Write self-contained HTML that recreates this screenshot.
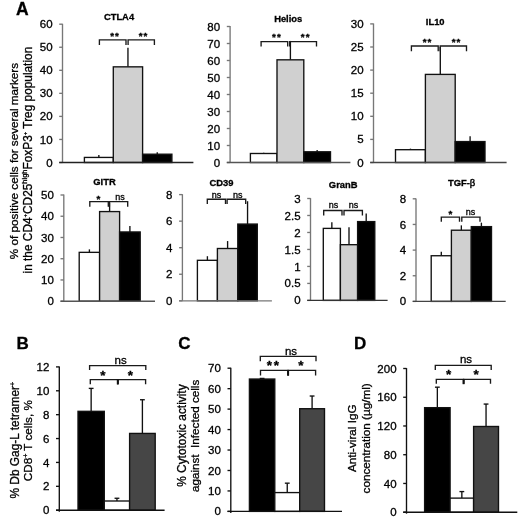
<!DOCTYPE html>
<html><head><meta charset="utf-8"><style>
html,body{margin:0;padding:0;background:#fff;width:520px;height:520px;overflow:hidden}
svg{display:block;filter:grayscale(1)}
text{font-family:"Liberation Sans", sans-serif;stroke:#000;stroke-width:0.3px}
</style></head><body>
<svg width="520" height="520" viewBox="0 0 520 520">
<rect x="0" y="0" width="520" height="520" fill="#fff"/>
<text x="16.00" y="14.50" font-size="17.5" text-anchor="start" font-weight="bold" fill="#000" >A</text>
<line x1="98.85" y1="154.89" x2="98.85" y2="157.43" stroke="#111" stroke-width="1.35"/>
<rect x="84.40" y="157.43" width="28.90" height="5.07" fill="#fff" stroke="#111" stroke-width="1.35"/>
<line x1="127.95" y1="47.71" x2="127.95" y2="66.84" stroke="#111" stroke-width="1.35"/>
<rect x="113.30" y="66.84" width="29.30" height="95.66" fill="#d0d0d0" stroke="#111" stroke-width="1.35"/>
<line x1="157.25" y1="152.36" x2="157.25" y2="154.20" stroke="#111" stroke-width="1.35"/>
<rect x="142.60" y="154.20" width="29.30" height="8.30" fill="#000" stroke="#111" stroke-width="1.35"/>
<line x1="62.50" y1="23.80" x2="62.50" y2="162.50" stroke="#777" stroke-width="1.35"/>
<line x1="59.20" y1="162.50" x2="62.50" y2="162.50" stroke="#777" stroke-width="1.35"/>
<text x="52.55" y="166.57" font-size="11.5" text-anchor="end" font-weight="normal" fill="#000" >0</text>
<line x1="59.20" y1="139.45" x2="62.50" y2="139.45" stroke="#777" stroke-width="1.35"/>
<text x="52.55" y="143.52" font-size="11.5" text-anchor="end" font-weight="normal" fill="#000" >10</text>
<line x1="59.20" y1="116.40" x2="62.50" y2="116.40" stroke="#777" stroke-width="1.35"/>
<text x="52.55" y="120.47" font-size="11.5" text-anchor="end" font-weight="normal" fill="#000" >20</text>
<line x1="59.20" y1="93.35" x2="62.50" y2="93.35" stroke="#777" stroke-width="1.35"/>
<text x="52.55" y="97.42" font-size="11.5" text-anchor="end" font-weight="normal" fill="#000" >30</text>
<line x1="59.20" y1="70.30" x2="62.50" y2="70.30" stroke="#777" stroke-width="1.35"/>
<text x="52.55" y="74.37" font-size="11.5" text-anchor="end" font-weight="normal" fill="#000" >40</text>
<line x1="59.20" y1="47.25" x2="62.50" y2="47.25" stroke="#777" stroke-width="1.35"/>
<text x="52.55" y="51.32" font-size="11.5" text-anchor="end" font-weight="normal" fill="#000" >50</text>
<line x1="59.20" y1="24.20" x2="62.50" y2="24.20" stroke="#777" stroke-width="1.35"/>
<text x="52.55" y="28.27" font-size="11.5" text-anchor="end" font-weight="normal" fill="#000" >60</text>
<line x1="59.20" y1="162.50" x2="193.40" y2="162.50" stroke="#222" stroke-width="1.35"/>
<text x="119.00" y="19.80" font-size="9.4" text-anchor="middle" font-weight="bold" fill="#000" >CTLA4</text>
<path d="M99.40,44.90 V39.90 H126.00 V44.90" stroke="#1a1a1a" stroke-width="1.35" fill="none"/>
<path d="M128.10,44.90 V39.90 H154.40 V44.90" stroke="#1a1a1a" stroke-width="1.35" fill="none"/>
<text x="112.05" y="39.02" font-size="9.8" text-anchor="middle" font-weight="bold" fill="#000" >*</text>
<text x="116.80" y="39.02" font-size="9.8" text-anchor="middle" font-weight="bold" fill="#000" >*</text>
<text x="140.65" y="39.02" font-size="9.8" text-anchor="middle" font-weight="bold" fill="#000" >*</text>
<text x="145.40" y="39.02" font-size="9.8" text-anchor="middle" font-weight="bold" fill="#000" >*</text>
<line x1="263.70" y1="152.64" x2="263.70" y2="153.49" stroke="#111" stroke-width="1.35"/>
<rect x="250.40" y="153.49" width="26.60" height="9.01" fill="#fff" stroke="#111" stroke-width="1.35"/>
<line x1="290.40" y1="40.95" x2="290.40" y2="59.82" stroke="#111" stroke-width="1.35"/>
<rect x="277.00" y="59.82" width="26.80" height="102.68" fill="#d0d0d0" stroke="#111" stroke-width="1.35"/>
<line x1="317.15" y1="149.92" x2="317.15" y2="151.79" stroke="#111" stroke-width="1.35"/>
<rect x="303.80" y="151.79" width="26.70" height="10.71" fill="#000" stroke="#111" stroke-width="1.35"/>
<line x1="230.10" y1="26.10" x2="230.10" y2="162.50" stroke="#777" stroke-width="1.35"/>
<line x1="226.80" y1="162.50" x2="230.10" y2="162.50" stroke="#777" stroke-width="1.35"/>
<text x="220.15" y="166.57" font-size="11.5" text-anchor="end" font-weight="normal" fill="#000" >0</text>
<line x1="226.80" y1="145.50" x2="230.10" y2="145.50" stroke="#777" stroke-width="1.35"/>
<text x="220.15" y="149.57" font-size="11.5" text-anchor="end" font-weight="normal" fill="#000" >10</text>
<line x1="226.80" y1="128.50" x2="230.10" y2="128.50" stroke="#777" stroke-width="1.35"/>
<text x="220.15" y="132.57" font-size="11.5" text-anchor="end" font-weight="normal" fill="#000" >20</text>
<line x1="226.80" y1="111.50" x2="230.10" y2="111.50" stroke="#777" stroke-width="1.35"/>
<text x="220.15" y="115.57" font-size="11.5" text-anchor="end" font-weight="normal" fill="#000" >30</text>
<line x1="226.80" y1="94.50" x2="230.10" y2="94.50" stroke="#777" stroke-width="1.35"/>
<text x="220.15" y="98.57" font-size="11.5" text-anchor="end" font-weight="normal" fill="#000" >40</text>
<line x1="226.80" y1="77.50" x2="230.10" y2="77.50" stroke="#777" stroke-width="1.35"/>
<text x="220.15" y="81.57" font-size="11.5" text-anchor="end" font-weight="normal" fill="#000" >50</text>
<line x1="226.80" y1="60.50" x2="230.10" y2="60.50" stroke="#777" stroke-width="1.35"/>
<text x="220.15" y="64.57" font-size="11.5" text-anchor="end" font-weight="normal" fill="#000" >60</text>
<line x1="226.80" y1="43.50" x2="230.10" y2="43.50" stroke="#777" stroke-width="1.35"/>
<text x="220.15" y="47.57" font-size="11.5" text-anchor="end" font-weight="normal" fill="#000" >70</text>
<line x1="226.80" y1="26.50" x2="230.10" y2="26.50" stroke="#777" stroke-width="1.35"/>
<text x="220.15" y="30.57" font-size="11.5" text-anchor="end" font-weight="normal" fill="#000" >80</text>
<line x1="226.80" y1="162.50" x2="350.40" y2="162.50" stroke="#555" stroke-width="1.35"/>
<text x="288.20" y="22.10" font-size="9.4" text-anchor="middle" font-weight="bold" fill="#000" >Helios</text>
<path d="M261.10,46.40 V41.60 H287.70 V46.40" stroke="#1a1a1a" stroke-width="1.35" fill="none"/>
<path d="M289.70,46.40 V41.60 H316.50 V46.40" stroke="#1a1a1a" stroke-width="1.35" fill="none"/>
<text x="273.95" y="40.22" font-size="9.8" text-anchor="middle" font-weight="bold" fill="#000" >*</text>
<text x="278.85" y="40.22" font-size="9.8" text-anchor="middle" font-weight="bold" fill="#000" >*</text>
<text x="302.55" y="40.22" font-size="9.8" text-anchor="middle" font-weight="bold" fill="#000" >*</text>
<text x="307.60" y="40.22" font-size="9.8" text-anchor="middle" font-weight="bold" fill="#000" >*</text>
<line x1="410.45" y1="148.64" x2="410.45" y2="149.70" stroke="#111" stroke-width="1.35"/>
<rect x="395.50" y="149.70" width="29.90" height="12.80" fill="#fff" stroke="#111" stroke-width="1.35"/>
<line x1="440.30" y1="47.00" x2="440.30" y2="74.40" stroke="#111" stroke-width="1.35"/>
<rect x="425.40" y="74.40" width="29.80" height="88.10" fill="#d0d0d0" stroke="#111" stroke-width="1.35"/>
<line x1="470.10" y1="136.17" x2="470.10" y2="141.57" stroke="#111" stroke-width="1.35"/>
<rect x="455.20" y="141.57" width="29.80" height="20.93" fill="#000" stroke="#111" stroke-width="1.35"/>
<line x1="373.50" y1="23.50" x2="373.50" y2="162.50" stroke="#777" stroke-width="1.35"/>
<line x1="370.20" y1="162.50" x2="373.50" y2="162.50" stroke="#777" stroke-width="1.35"/>
<text x="363.55" y="166.57" font-size="11.5" text-anchor="end" font-weight="normal" fill="#000" >0</text>
<line x1="370.20" y1="139.40" x2="373.50" y2="139.40" stroke="#777" stroke-width="1.35"/>
<text x="363.55" y="143.47" font-size="11.5" text-anchor="end" font-weight="normal" fill="#000" >5</text>
<line x1="370.20" y1="116.30" x2="373.50" y2="116.30" stroke="#777" stroke-width="1.35"/>
<text x="363.55" y="120.37" font-size="11.5" text-anchor="end" font-weight="normal" fill="#000" >10</text>
<line x1="370.20" y1="93.20" x2="373.50" y2="93.20" stroke="#777" stroke-width="1.35"/>
<text x="363.55" y="97.27" font-size="11.5" text-anchor="end" font-weight="normal" fill="#000" >15</text>
<line x1="370.20" y1="70.10" x2="373.50" y2="70.10" stroke="#777" stroke-width="1.35"/>
<text x="363.55" y="74.17" font-size="11.5" text-anchor="end" font-weight="normal" fill="#000" >20</text>
<line x1="370.20" y1="47.00" x2="373.50" y2="47.00" stroke="#777" stroke-width="1.35"/>
<text x="363.55" y="51.07" font-size="11.5" text-anchor="end" font-weight="normal" fill="#000" >25</text>
<line x1="370.20" y1="23.90" x2="373.50" y2="23.90" stroke="#777" stroke-width="1.35"/>
<text x="363.55" y="27.97" font-size="11.5" text-anchor="end" font-weight="normal" fill="#000" >30</text>
<line x1="370.20" y1="162.50" x2="506.60" y2="162.50" stroke="#444" stroke-width="1.35"/>
<text x="435.20" y="25.10" font-size="9.4" text-anchor="middle" font-weight="bold" fill="#000" >IL10</text>
<path d="M411.40,51.20 V46.00 H438.20 V51.20" stroke="#1a1a1a" stroke-width="1.35" fill="none"/>
<path d="M440.20,51.20 V46.00 H466.50 V51.20" stroke="#1a1a1a" stroke-width="1.35" fill="none"/>
<text x="424.65" y="44.82" font-size="9.8" text-anchor="middle" font-weight="bold" fill="#000" >*</text>
<text x="429.40" y="44.82" font-size="9.8" text-anchor="middle" font-weight="bold" fill="#000" >*</text>
<text x="453.55" y="44.82" font-size="9.8" text-anchor="middle" font-weight="bold" fill="#000" >*</text>
<text x="458.30" y="44.82" font-size="9.8" text-anchor="middle" font-weight="bold" fill="#000" >*</text>
<text transform="translate(18.2,161.1) rotate(-90)" font-size="11.7" text-anchor="middle" fill="#000">% of positive cells for several markers</text>
<text transform="translate(31.6,160.1) rotate(-90)" font-size="11.85" text-anchor="middle" fill="#000">in the CD4<tspan dy="-4.2" font-size="6">+</tspan><tspan dy="4.2">CD25</tspan><tspan dy="-4.2" font-size="7.5">high</tspan><tspan dy="4.2">FoxP3</tspan><tspan dy="-4.2" font-size="6">+</tspan><tspan dy="4.2"> Treg population</tspan></text>
<line x1="89.40" y1="249.37" x2="89.40" y2="252.35" stroke="#111" stroke-width="1.35"/>
<rect x="79.20" y="252.35" width="20.40" height="48.85" fill="#fff" stroke="#111" stroke-width="1.35"/>
<line x1="109.60" y1="202.43" x2="109.60" y2="211.57" stroke="#111" stroke-width="1.35"/>
<rect x="99.60" y="211.57" width="20.00" height="89.63" fill="#d0d0d0" stroke="#111" stroke-width="1.35"/>
<line x1="129.90" y1="226.01" x2="129.90" y2="231.96" stroke="#111" stroke-width="1.35"/>
<rect x="119.60" y="231.96" width="20.60" height="69.24" fill="#000" stroke="#111" stroke-width="1.35"/>
<line x1="63.80" y1="194.60" x2="63.80" y2="301.20" stroke="#777" stroke-width="1.35"/>
<line x1="60.50" y1="301.20" x2="63.80" y2="301.20" stroke="#777" stroke-width="1.35"/>
<text x="53.85" y="305.27" font-size="11.5" text-anchor="end" font-weight="normal" fill="#000" >0</text>
<line x1="60.50" y1="279.96" x2="63.80" y2="279.96" stroke="#777" stroke-width="1.35"/>
<text x="53.85" y="284.03" font-size="11.5" text-anchor="end" font-weight="normal" fill="#000" >10</text>
<line x1="60.50" y1="258.72" x2="63.80" y2="258.72" stroke="#777" stroke-width="1.35"/>
<text x="53.85" y="262.79" font-size="11.5" text-anchor="end" font-weight="normal" fill="#000" >20</text>
<line x1="60.50" y1="237.48" x2="63.80" y2="237.48" stroke="#777" stroke-width="1.35"/>
<text x="53.85" y="241.55" font-size="11.5" text-anchor="end" font-weight="normal" fill="#000" >30</text>
<line x1="60.50" y1="216.24" x2="63.80" y2="216.24" stroke="#777" stroke-width="1.35"/>
<text x="53.85" y="220.31" font-size="11.5" text-anchor="end" font-weight="normal" fill="#000" >40</text>
<line x1="60.50" y1="195.00" x2="63.80" y2="195.00" stroke="#777" stroke-width="1.35"/>
<text x="53.85" y="199.07" font-size="11.5" text-anchor="end" font-weight="normal" fill="#000" >50</text>
<line x1="60.50" y1="301.20" x2="155.00" y2="301.20" stroke="#555" stroke-width="1.35"/>
<text x="104.50" y="184.50" font-size="9.4" text-anchor="middle" font-weight="bold" fill="#000" >GITR</text>
<path d="M89.80,206.80 V201.60 H108.30 V206.80" stroke="#1a1a1a" stroke-width="1.35" fill="none"/>
<path d="M109.40,206.80 V201.60 H127.70 V206.80" stroke="#1a1a1a" stroke-width="1.35" fill="none"/>
<text x="98.50" y="202.42" font-size="9.8" text-anchor="middle" font-weight="bold" fill="#000" >*</text>
<text x="120.10" y="200.20" font-size="9.0" text-anchor="middle" font-weight="normal" fill="#000" >ns</text>
<line x1="207.40" y1="256.20" x2="207.40" y2="260.31" stroke="#111" stroke-width="1.35"/>
<rect x="197.40" y="260.31" width="20.00" height="40.49" fill="#fff" stroke="#111" stroke-width="1.35"/>
<line x1="227.60" y1="241.06" x2="227.60" y2="248.50" stroke="#111" stroke-width="1.35"/>
<rect x="217.40" y="248.50" width="20.40" height="52.30" fill="#d0d0d0" stroke="#111" stroke-width="1.35"/>
<line x1="247.55" y1="201.24" x2="247.55" y2="224.07" stroke="#111" stroke-width="1.35"/>
<rect x="237.80" y="224.07" width="19.50" height="76.73" fill="#000" stroke="#111" stroke-width="1.35"/>
<line x1="182.40" y1="194.20" x2="182.40" y2="300.80" stroke="#777" stroke-width="1.35"/>
<line x1="179.10" y1="300.80" x2="182.40" y2="300.80" stroke="#777" stroke-width="1.35"/>
<text x="172.45" y="304.87" font-size="11.5" text-anchor="end" font-weight="normal" fill="#000" >0</text>
<line x1="179.10" y1="274.25" x2="182.40" y2="274.25" stroke="#777" stroke-width="1.35"/>
<text x="172.45" y="278.32" font-size="11.5" text-anchor="end" font-weight="normal" fill="#000" >2</text>
<line x1="179.10" y1="247.70" x2="182.40" y2="247.70" stroke="#777" stroke-width="1.35"/>
<text x="172.45" y="251.77" font-size="11.5" text-anchor="end" font-weight="normal" fill="#000" >4</text>
<line x1="179.10" y1="221.15" x2="182.40" y2="221.15" stroke="#777" stroke-width="1.35"/>
<text x="172.45" y="225.22" font-size="11.5" text-anchor="end" font-weight="normal" fill="#000" >6</text>
<line x1="179.10" y1="194.60" x2="182.40" y2="194.60" stroke="#777" stroke-width="1.35"/>
<text x="172.45" y="198.67" font-size="11.5" text-anchor="end" font-weight="normal" fill="#000" >8</text>
<line x1="179.10" y1="300.80" x2="271.90" y2="300.80" stroke="#777" stroke-width="1.35"/>
<text x="221.50" y="186.20" font-size="9.4" text-anchor="middle" font-weight="bold" fill="#000" >CD39</text>
<path d="M207.30,204.00 V199.20 H225.50 V204.00" stroke="#1a1a1a" stroke-width="1.35" fill="none"/>
<path d="M227.10,204.00 V199.20 H245.70 V204.00" stroke="#1a1a1a" stroke-width="1.35" fill="none"/>
<text x="216.60" y="197.90" font-size="9.0" text-anchor="middle" font-weight="normal" fill="#000" >ns</text>
<text x="237.80" y="197.90" font-size="9.0" text-anchor="middle" font-weight="normal" fill="#000" >ns</text>
<line x1="331.85" y1="222.28" x2="331.85" y2="228.39" stroke="#111" stroke-width="1.35"/>
<rect x="323.30" y="228.39" width="17.10" height="72.01" fill="#fff" stroke="#111" stroke-width="1.35"/>
<line x1="349.00" y1="227.37" x2="349.00" y2="244.69" stroke="#111" stroke-width="1.35"/>
<rect x="340.40" y="244.69" width="17.20" height="55.71" fill="#d0d0d0" stroke="#111" stroke-width="1.35"/>
<line x1="366.20" y1="213.45" x2="366.20" y2="221.60" stroke="#111" stroke-width="1.35"/>
<rect x="357.60" y="221.60" width="17.20" height="78.80" fill="#000" stroke="#111" stroke-width="1.35"/>
<line x1="310.50" y1="198.10" x2="310.50" y2="300.40" stroke="#777" stroke-width="1.35"/>
<line x1="307.20" y1="300.40" x2="310.50" y2="300.40" stroke="#777" stroke-width="1.35"/>
<text x="300.55" y="304.47" font-size="11.5" text-anchor="end" font-weight="normal" fill="#000" >0</text>
<line x1="307.20" y1="283.42" x2="310.50" y2="283.42" stroke="#777" stroke-width="1.35"/>
<text x="300.55" y="287.49" font-size="11.5" text-anchor="end" font-weight="normal" fill="#000" >0.5</text>
<line x1="307.20" y1="266.43" x2="310.50" y2="266.43" stroke="#777" stroke-width="1.35"/>
<text x="300.55" y="270.50" font-size="11.5" text-anchor="end" font-weight="normal" fill="#000" >1</text>
<line x1="307.20" y1="249.45" x2="310.50" y2="249.45" stroke="#777" stroke-width="1.35"/>
<text x="300.55" y="253.52" font-size="11.5" text-anchor="end" font-weight="normal" fill="#000" >1.5</text>
<line x1="307.20" y1="232.47" x2="310.50" y2="232.47" stroke="#777" stroke-width="1.35"/>
<text x="300.55" y="236.54" font-size="11.5" text-anchor="end" font-weight="normal" fill="#000" >2</text>
<line x1="307.20" y1="215.48" x2="310.50" y2="215.48" stroke="#777" stroke-width="1.35"/>
<text x="300.55" y="219.55" font-size="11.5" text-anchor="end" font-weight="normal" fill="#000" >2.5</text>
<line x1="307.20" y1="198.50" x2="310.50" y2="198.50" stroke="#777" stroke-width="1.35"/>
<text x="300.55" y="202.57" font-size="11.5" text-anchor="end" font-weight="normal" fill="#000" >3</text>
<line x1="307.20" y1="300.40" x2="387.60" y2="300.40" stroke="#333" stroke-width="1.35"/>
<text x="343.20" y="188.30" font-size="9.4" text-anchor="middle" font-weight="bold" fill="#000" >GranB</text>
<path d="M323.70,215.40 V210.50 H342.00 V215.40" stroke="#1a1a1a" stroke-width="1.35" fill="none"/>
<path d="M344.00,215.40 V210.50 H362.40 V215.40" stroke="#1a1a1a" stroke-width="1.35" fill="none"/>
<text x="333.40" y="208.20" font-size="9.0" text-anchor="middle" font-weight="normal" fill="#000" >ns</text>
<text x="353.50" y="208.20" font-size="9.0" text-anchor="middle" font-weight="normal" fill="#000" >ns</text>
<line x1="441.30" y1="251.77" x2="441.30" y2="255.74" stroke="#111" stroke-width="1.35"/>
<rect x="431.20" y="255.74" width="20.20" height="45.66" fill="#fff" stroke="#111" stroke-width="1.35"/>
<line x1="461.35" y1="225.35" x2="461.35" y2="230.22" stroke="#111" stroke-width="1.35"/>
<rect x="451.40" y="230.22" width="19.90" height="71.18" fill="#d0d0d0" stroke="#111" stroke-width="1.35"/>
<line x1="481.40" y1="222.65" x2="481.40" y2="226.63" stroke="#111" stroke-width="1.35"/>
<rect x="471.30" y="226.63" width="20.20" height="74.77" fill="#000" stroke="#111" stroke-width="1.35"/>
<line x1="416.00" y1="198.40" x2="416.00" y2="301.40" stroke="#777" stroke-width="1.35"/>
<line x1="412.70" y1="301.40" x2="416.00" y2="301.40" stroke="#777" stroke-width="1.35"/>
<text x="406.05" y="305.47" font-size="11.5" text-anchor="end" font-weight="normal" fill="#000" >0</text>
<line x1="412.70" y1="275.75" x2="416.00" y2="275.75" stroke="#777" stroke-width="1.35"/>
<text x="406.05" y="279.82" font-size="11.5" text-anchor="end" font-weight="normal" fill="#000" >2</text>
<line x1="412.70" y1="250.10" x2="416.00" y2="250.10" stroke="#777" stroke-width="1.35"/>
<text x="406.05" y="254.17" font-size="11.5" text-anchor="end" font-weight="normal" fill="#000" >4</text>
<line x1="412.70" y1="224.45" x2="416.00" y2="224.45" stroke="#777" stroke-width="1.35"/>
<text x="406.05" y="228.52" font-size="11.5" text-anchor="end" font-weight="normal" fill="#000" >6</text>
<line x1="412.70" y1="198.80" x2="416.00" y2="198.80" stroke="#777" stroke-width="1.35"/>
<text x="406.05" y="202.87" font-size="11.5" text-anchor="end" font-weight="normal" fill="#000" >8</text>
<line x1="412.70" y1="301.40" x2="505.70" y2="301.40" stroke="#444" stroke-width="1.35"/>
<text x="461.60" y="186.40" font-size="9.4" text-anchor="middle" font-weight="bold" fill="#000" >TGF-<tspan font-weight="normal" stroke-width="0.45">β</tspan></text>
<path d="M441.30,221.70 V217.10 H459.50 V221.70" stroke="#1a1a1a" stroke-width="1.35" fill="none"/>
<path d="M461.80,221.70 V217.10 H480.00 V221.70" stroke="#1a1a1a" stroke-width="1.35" fill="none"/>
<text x="450.35" y="216.87" font-size="9.8" text-anchor="middle" font-weight="bold" fill="#000" >*</text>
<text x="470.40" y="215.20" font-size="9.0" text-anchor="middle" font-weight="normal" fill="#000" >ns</text>
<text x="16.40" y="348.70" font-size="17" text-anchor="start" font-weight="bold" fill="#000" >B</text>
<line x1="91.15" y1="388.39" x2="91.15" y2="411.32" stroke="#111" stroke-width="1.35"/>
<line x1="88.75" y1="388.39" x2="93.55" y2="388.39" stroke="#111" stroke-width="1.35"/>
<rect x="78.00" y="411.32" width="26.30" height="98.88" fill="#000" stroke="#111" stroke-width="1.35"/>
<line x1="116.95" y1="498.26" x2="116.95" y2="501.00" stroke="#111" stroke-width="1.35"/>
<line x1="114.55" y1="498.26" x2="119.35" y2="498.26" stroke="#111" stroke-width="1.35"/>
<rect x="104.30" y="501.00" width="25.30" height="9.20" fill="#fff" stroke="#111" stroke-width="1.35"/>
<line x1="142.40" y1="399.74" x2="142.40" y2="433.42" stroke="#111" stroke-width="1.35"/>
<line x1="140.00" y1="399.74" x2="144.80" y2="399.74" stroke="#111" stroke-width="1.35"/>
<rect x="129.60" y="433.42" width="25.60" height="76.78" fill="#464646" stroke="#111" stroke-width="1.35"/>
<line x1="59.30" y1="366.50" x2="59.30" y2="511.70" stroke="#111" stroke-width="1.35"/>
<line x1="56.00" y1="510.20" x2="59.30" y2="510.20" stroke="#111" stroke-width="1.35"/>
<text x="49.35" y="514.27" font-size="11.5" text-anchor="end" font-weight="normal" fill="#000" >0</text>
<line x1="56.00" y1="486.32" x2="59.30" y2="486.32" stroke="#111" stroke-width="1.35"/>
<text x="49.35" y="490.39" font-size="11.5" text-anchor="end" font-weight="normal" fill="#000" >2</text>
<line x1="56.00" y1="462.43" x2="59.30" y2="462.43" stroke="#111" stroke-width="1.35"/>
<text x="49.35" y="466.50" font-size="11.5" text-anchor="end" font-weight="normal" fill="#000" >4</text>
<line x1="56.00" y1="438.55" x2="59.30" y2="438.55" stroke="#111" stroke-width="1.35"/>
<text x="49.35" y="442.62" font-size="11.5" text-anchor="end" font-weight="normal" fill="#000" >6</text>
<line x1="56.00" y1="414.67" x2="59.30" y2="414.67" stroke="#111" stroke-width="1.35"/>
<text x="49.35" y="418.74" font-size="11.5" text-anchor="end" font-weight="normal" fill="#000" >8</text>
<line x1="56.00" y1="390.78" x2="59.30" y2="390.78" stroke="#111" stroke-width="1.35"/>
<text x="49.35" y="394.85" font-size="11.5" text-anchor="end" font-weight="normal" fill="#000" >10</text>
<line x1="56.00" y1="366.90" x2="59.30" y2="366.90" stroke="#111" stroke-width="1.35"/>
<text x="49.35" y="370.97" font-size="11.5" text-anchor="end" font-weight="normal" fill="#000" >12</text>
<line x1="56.00" y1="510.20" x2="164.60" y2="510.20" stroke="#111" stroke-width="1.35"/>
<path d="M89.60,370.00 V365.60 H145.80 V370.00" stroke="#1a1a1a" stroke-width="1.35" fill="none"/>
<path d="M90.30,384.20 V379.60 H117.80 V384.20" stroke="#1a1a1a" stroke-width="1.35" fill="none"/>
<path d="M117.80,384.20 V379.60 H145.60 V384.20" stroke="#1a1a1a" stroke-width="1.35" fill="none"/>
<line x1="117.80" y1="379.60" x2="117.80" y2="384.40" stroke="#111" stroke-width="2.0"/>
<text x="120.60" y="363.60" font-size="11.5" text-anchor="middle" font-weight="normal" fill="#000" >ns</text>
<text x="102.95" y="379.78" font-size="13.5" text-anchor="middle" font-weight="bold" fill="#000" >*</text>
<text x="130.50" y="379.78" font-size="13.5" text-anchor="middle" font-weight="bold" fill="#000" >*</text>
<text transform="translate(19.3,440.2) rotate(-90)" font-size="11.9" text-anchor="middle" fill="#000">% Db Gag-L tetramer<tspan dy="-4.2" font-size="7.0">+</tspan></text>
<text transform="translate(32.0,440.7) rotate(-90)" font-size="11.7" text-anchor="middle" fill="#000">CD8<tspan dy="-4.2" font-size="7.0">+</tspan><tspan dy="4.2"> T cells, %</tspan></text>
<text x="178.30" y="348.60" font-size="17" text-anchor="start" font-weight="bold" fill="#000" >C</text>
<line x1="262.10" y1="378.43" x2="262.10" y2="379.04" stroke="#111" stroke-width="1.35"/>
<line x1="259.70" y1="378.43" x2="264.50" y2="378.43" stroke="#111" stroke-width="1.35"/>
<rect x="249.40" y="379.04" width="25.40" height="132.36" fill="#000" stroke="#111" stroke-width="1.35"/>
<line x1="287.25" y1="483.17" x2="287.25" y2="492.58" stroke="#111" stroke-width="1.35"/>
<line x1="284.85" y1="483.17" x2="289.65" y2="483.17" stroke="#111" stroke-width="1.35"/>
<rect x="274.80" y="492.58" width="24.90" height="18.82" fill="#fff" stroke="#111" stroke-width="1.35"/>
<line x1="312.10" y1="396.02" x2="312.10" y2="408.71" stroke="#111" stroke-width="1.35"/>
<line x1="309.70" y1="396.02" x2="314.50" y2="396.02" stroke="#111" stroke-width="1.35"/>
<rect x="299.70" y="408.71" width="24.80" height="102.69" fill="#464646" stroke="#111" stroke-width="1.35"/>
<line x1="230.80" y1="367.80" x2="230.80" y2="512.90" stroke="#111" stroke-width="1.35"/>
<line x1="227.50" y1="511.40" x2="230.80" y2="511.40" stroke="#111" stroke-width="1.35"/>
<text x="220.85" y="515.47" font-size="11.5" text-anchor="end" font-weight="normal" fill="#000" >0</text>
<line x1="227.50" y1="490.94" x2="230.80" y2="490.94" stroke="#111" stroke-width="1.35"/>
<text x="220.85" y="495.01" font-size="11.5" text-anchor="end" font-weight="normal" fill="#000" >10</text>
<line x1="227.50" y1="470.49" x2="230.80" y2="470.49" stroke="#111" stroke-width="1.35"/>
<text x="220.85" y="474.56" font-size="11.5" text-anchor="end" font-weight="normal" fill="#000" >20</text>
<line x1="227.50" y1="450.03" x2="230.80" y2="450.03" stroke="#111" stroke-width="1.35"/>
<text x="220.85" y="454.10" font-size="11.5" text-anchor="end" font-weight="normal" fill="#000" >30</text>
<line x1="227.50" y1="429.57" x2="230.80" y2="429.57" stroke="#111" stroke-width="1.35"/>
<text x="220.85" y="433.64" font-size="11.5" text-anchor="end" font-weight="normal" fill="#000" >40</text>
<line x1="227.50" y1="409.11" x2="230.80" y2="409.11" stroke="#111" stroke-width="1.35"/>
<text x="220.85" y="413.19" font-size="11.5" text-anchor="end" font-weight="normal" fill="#000" >50</text>
<line x1="227.50" y1="388.66" x2="230.80" y2="388.66" stroke="#111" stroke-width="1.35"/>
<text x="220.85" y="392.73" font-size="11.5" text-anchor="end" font-weight="normal" fill="#000" >60</text>
<line x1="227.50" y1="368.20" x2="230.80" y2="368.20" stroke="#111" stroke-width="1.35"/>
<text x="220.85" y="372.27" font-size="11.5" text-anchor="end" font-weight="normal" fill="#000" >70</text>
<line x1="227.50" y1="511.40" x2="342.00" y2="511.40" stroke="#111" stroke-width="1.35"/>
<path d="M260.30,361.20 V356.30 H316.00 V361.20" stroke="#1a1a1a" stroke-width="1.35" fill="none"/>
<path d="M260.50,375.40 V370.40 H288.10 V375.40" stroke="#1a1a1a" stroke-width="1.35" fill="none"/>
<path d="M288.10,375.40 V370.40 H315.60 V375.40" stroke="#1a1a1a" stroke-width="1.35" fill="none"/>
<line x1="288.10" y1="370.40" x2="288.10" y2="375.60" stroke="#111" stroke-width="2.0"/>
<text x="291.00" y="354.60" font-size="11.5" text-anchor="middle" font-weight="normal" fill="#000" >ns</text>
<text x="269.35" y="370.38" font-size="13.5" text-anchor="middle" font-weight="bold" fill="#000" >*</text>
<text x="276.45" y="370.38" font-size="13.5" text-anchor="middle" font-weight="bold" fill="#000" >*</text>
<text x="301.00" y="370.38" font-size="13.5" text-anchor="middle" font-weight="bold" fill="#000" >*</text>
<text transform="translate(185.6,435.6) rotate(-90)" font-size="11.9" text-anchor="middle" fill="#000">% Cytotoxic activity</text>
<text transform="translate(198.6,435.9) rotate(-90)" font-size="11.7" text-anchor="middle" fill="#000" xml:space="preserve">against  Infected cells</text>
<text x="353.90" y="348.60" font-size="17" text-anchor="start" font-weight="bold" fill="#000" >D</text>
<line x1="437.35" y1="387.18" x2="437.35" y2="407.66" stroke="#111" stroke-width="1.35"/>
<line x1="434.95" y1="387.18" x2="439.75" y2="387.18" stroke="#111" stroke-width="1.35"/>
<rect x="424.60" y="407.66" width="25.50" height="104.54" fill="#000" stroke="#111" stroke-width="1.35"/>
<line x1="461.85" y1="491.58" x2="461.85" y2="498.12" stroke="#111" stroke-width="1.35"/>
<line x1="459.45" y1="491.58" x2="464.25" y2="491.58" stroke="#111" stroke-width="1.35"/>
<rect x="450.10" y="498.12" width="23.50" height="14.08" fill="#fff" stroke="#111" stroke-width="1.35"/>
<line x1="486.05" y1="404.07" x2="486.05" y2="426.48" stroke="#111" stroke-width="1.35"/>
<line x1="483.65" y1="404.07" x2="488.45" y2="404.07" stroke="#111" stroke-width="1.35"/>
<rect x="473.60" y="426.48" width="24.90" height="85.72" fill="#464646" stroke="#111" stroke-width="1.35"/>
<line x1="406.50" y1="368.10" x2="406.50" y2="513.70" stroke="#111" stroke-width="1.35"/>
<line x1="403.20" y1="512.20" x2="406.50" y2="512.20" stroke="#111" stroke-width="1.35"/>
<text x="396.55" y="516.27" font-size="11.5" text-anchor="end" font-weight="normal" fill="#000" >0</text>
<line x1="403.20" y1="483.46" x2="406.50" y2="483.46" stroke="#111" stroke-width="1.35"/>
<text x="396.55" y="487.53" font-size="11.5" text-anchor="end" font-weight="normal" fill="#000" >40</text>
<line x1="403.20" y1="454.72" x2="406.50" y2="454.72" stroke="#111" stroke-width="1.35"/>
<text x="396.55" y="458.79" font-size="11.5" text-anchor="end" font-weight="normal" fill="#000" >80</text>
<line x1="403.20" y1="425.98" x2="406.50" y2="425.98" stroke="#111" stroke-width="1.35"/>
<text x="396.55" y="430.05" font-size="11.5" text-anchor="end" font-weight="normal" fill="#000" >120</text>
<line x1="403.20" y1="397.24" x2="406.50" y2="397.24" stroke="#111" stroke-width="1.35"/>
<text x="396.55" y="401.31" font-size="11.5" text-anchor="end" font-weight="normal" fill="#000" >160</text>
<line x1="403.20" y1="368.50" x2="406.50" y2="368.50" stroke="#111" stroke-width="1.35"/>
<text x="396.55" y="372.57" font-size="11.5" text-anchor="end" font-weight="normal" fill="#000" >200</text>
<line x1="403.20" y1="512.20" x2="517.30" y2="512.20" stroke="#111" stroke-width="1.35"/>
<path d="M435.30,370.00 V365.30 H491.20 V370.00" stroke="#1a1a1a" stroke-width="1.35" fill="none"/>
<path d="M436.30,383.80 V379.40 H463.60 V383.80" stroke="#1a1a1a" stroke-width="1.35" fill="none"/>
<path d="M463.60,383.80 V379.40 H490.50 V383.80" stroke="#1a1a1a" stroke-width="1.35" fill="none"/>
<line x1="463.60" y1="379.40" x2="463.60" y2="384.20" stroke="#111" stroke-width="2.0"/>
<text x="466.00" y="363.30" font-size="11.5" text-anchor="middle" font-weight="normal" fill="#000" >ns</text>
<text x="448.60" y="379.18" font-size="13.5" text-anchor="middle" font-weight="bold" fill="#000" >*</text>
<text x="476.10" y="379.18" font-size="13.5" text-anchor="middle" font-weight="bold" fill="#000" >*</text>
<text transform="translate(356.3,438.3) rotate(-90)" font-size="11.7" text-anchor="middle" fill="#000">Anti-viral IgG</text>
<text transform="translate(370.2,438.4) rotate(-90)" font-size="11.7" text-anchor="middle" fill="#000">concentration (µg/ml)</text>
</svg>
</body></html>
